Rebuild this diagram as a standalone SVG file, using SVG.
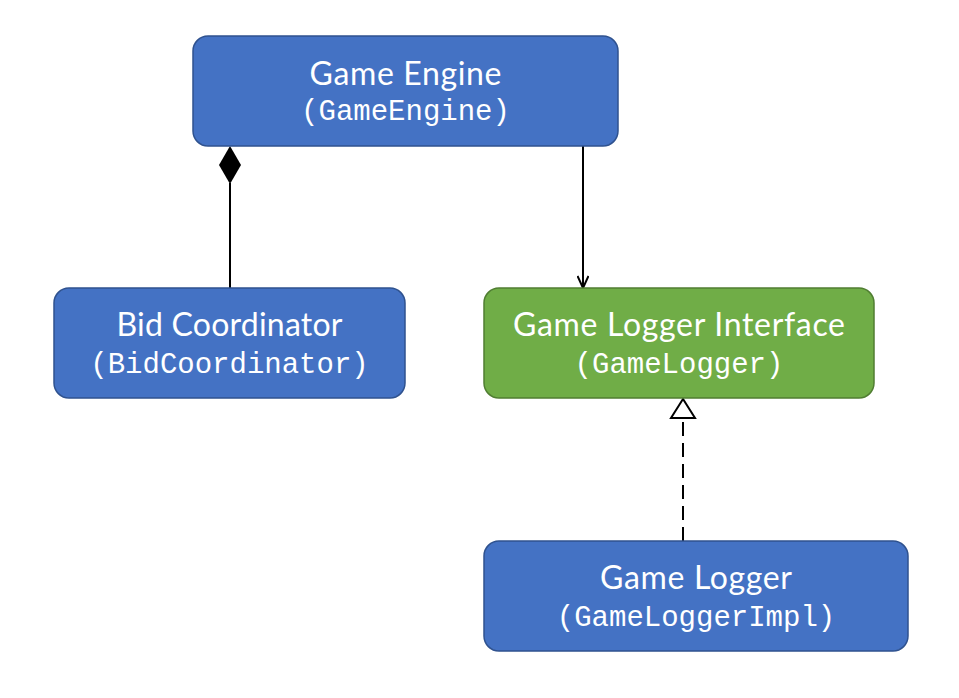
<svg xmlns="http://www.w3.org/2000/svg" width="959" height="698" viewBox="0 0 959 698">
<style>
.blue{fill:#4472C4;stroke:#2F528F;stroke-width:1.5}
.green{fill:#70AD47;stroke:#507E32;stroke-width:1.5}
.t{font-family:"Lato","Open Sans","Liberation Sans",sans-serif;font-size:32px;fill:#fff;text-anchor:middle}
.m{font-family:"Liberation Mono","Courier New",monospace;font-size:29px;fill:#fff;text-anchor:middle}
.ln{stroke:#000;stroke-width:2;fill:none}
</style>
<defs>
<marker id="open" viewBox="0 0 14 12" refX="13" refY="6" markerWidth="14" markerHeight="12" markerUnits="userSpaceOnUse" orient="auto">
<path d="M1,0.5 L13,6 L1,11.5" fill="none" stroke="#000" stroke-width="2"/>
</marker>
<marker id="tri" viewBox="0 0 22 28" refX="21" refY="14" markerWidth="22" markerHeight="28" markerUnits="userSpaceOnUse" orient="auto">
<path d="M21,14 L2,2 L2,26 Z" fill="#fff" stroke="#000" stroke-width="2"/>
</marker>
</defs>
<rect width="959" height="698" fill="#fff"/>
<g id="connectors">
<line class="ln" x1="230" y1="288" x2="230" y2="183"/>
<path d="M230,146 L241,165 L230,184 L219,165 Z" fill="#000"/>
<line class="ln" x1="583" y1="146" x2="583" y2="288" marker-end="url(#open)"/>
<line class="ln" x1="683" y1="541" x2="683" y2="399" stroke-dasharray="14,7" marker-end="url(#tri)"/>
</g>
<g id="game-engine">
<rect class="blue" x="193" y="36" width="425" height="110" rx="15"/>
<text class="t" x="405.5" y="85" textLength="192" lengthAdjust="spacing">Game Engine</text>
<text class="m" x="405.5" y="120">(GameEngine)</text>
</g>
<g id="bid-coordinator">
<rect class="blue" x="54" y="288" width="351" height="110" rx="15"/>
<text class="t" x="229.5" y="336" textLength="226" lengthAdjust="spacing">Bid Coordinator</text>
<text class="m" x="229.5" y="373">(BidCoordinator)</text>
</g>
<g id="game-logger-interface">
<rect class="green" x="484" y="288" width="390" height="110" rx="15"/>
<text class="t" x="679" y="336" textLength="332" lengthAdjust="spacing">Game Logger Interface</text>
<text class="m" x="679" y="373">(GameLogger)</text>
</g>
<g id="game-logger">
<rect class="blue" x="484" y="541" width="424" height="110" rx="15"/>
<text class="t" x="696" y="589" textLength="192" lengthAdjust="spacing">Game Logger</text>
<text class="m" x="696" y="626">(GameLoggerImpl)</text>
</g>
</svg>
